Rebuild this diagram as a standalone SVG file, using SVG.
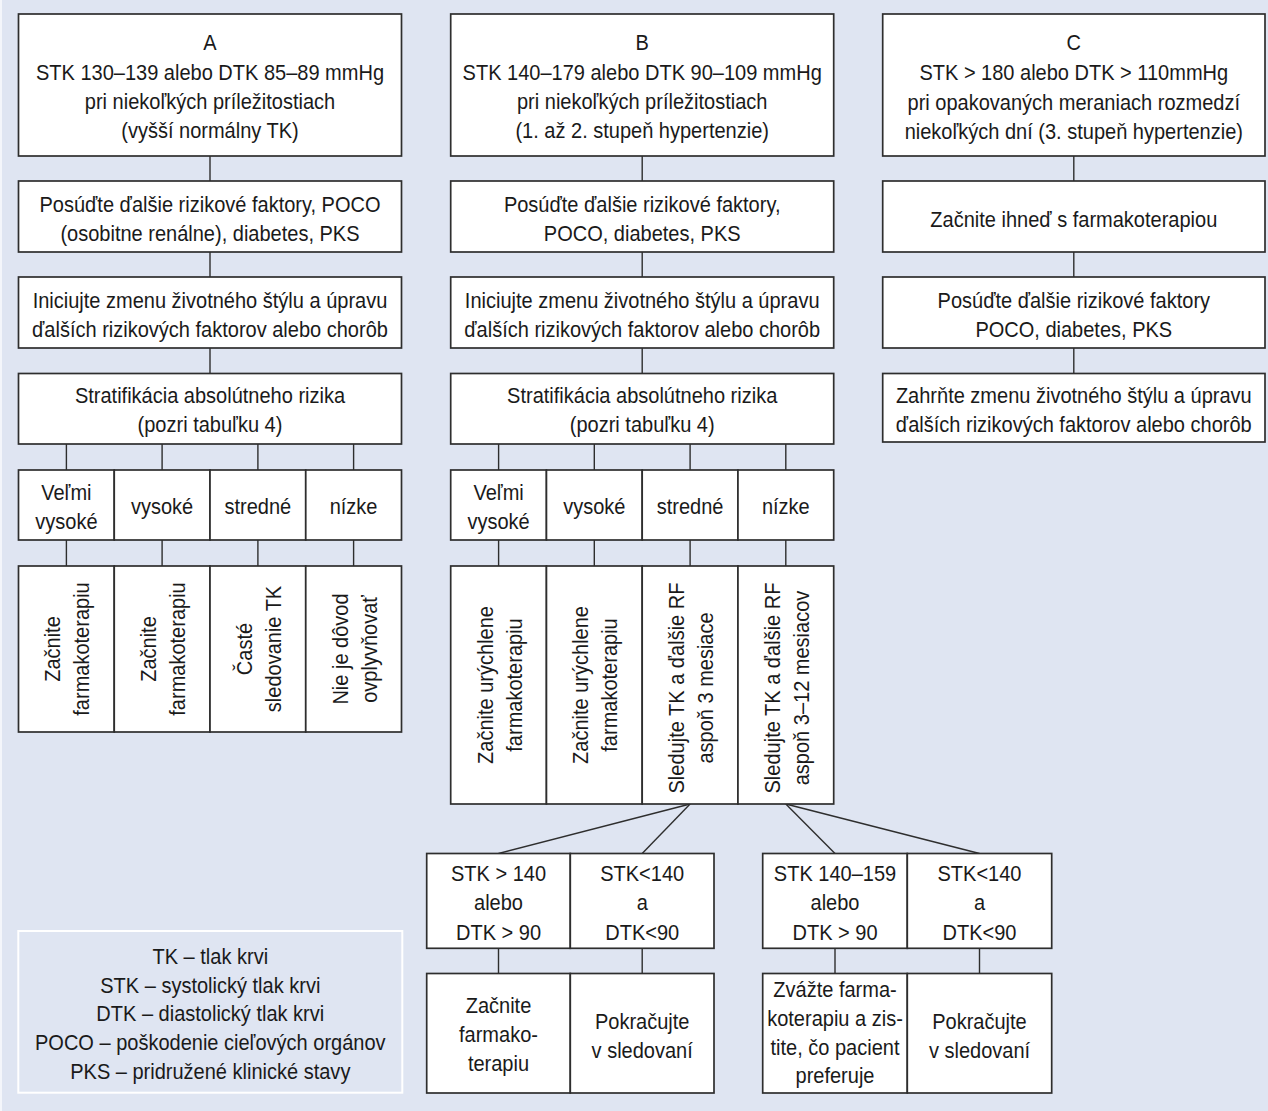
<svg xmlns="http://www.w3.org/2000/svg" width="1268" height="1111" viewBox="0 0 1268 1111">
<style>
.bx{fill:#ffffff;stroke:#2e2e2e;stroke-width:1.7}
.ln{fill:none;stroke:#2e2e2e;stroke-width:1.4}
.t{font-family:"Liberation Sans",Arial,Helvetica,sans-serif;font-size:22px;fill:#1a1a1a;text-anchor:middle}
.lg{fill:none;stroke:#ffffff;stroke-width:2}
</style>
<rect x="0" y="0" width="1268" height="1111" fill="#f4f6fb"/>
<rect x="2" y="0" width="1266" height="1111" fill="#dfe5f2"/>

<g id="connectors">
  <line class="ln" x1="210" y1="156" x2="210" y2="181"/>
  <line class="ln" x1="210" y1="252" x2="210" y2="277"/>
  <line class="ln" x1="210" y1="348" x2="210" y2="373.5"/>
  <line class="ln" x1="66.4" y1="444" x2="66.4" y2="470"/>
  <line class="ln" x1="162.1" y1="444" x2="162.1" y2="470"/>
  <line class="ln" x1="257.9" y1="444" x2="257.9" y2="470"/>
  <line class="ln" x1="353.6" y1="444" x2="353.6" y2="470"/>
  <line class="ln" x1="66.4" y1="540" x2="66.4" y2="566"/>
  <line class="ln" x1="162.1" y1="540" x2="162.1" y2="566"/>
  <line class="ln" x1="257.9" y1="540" x2="257.9" y2="566"/>
  <line class="ln" x1="353.6" y1="540" x2="353.6" y2="566"/>
  <line class="ln" x1="642.2" y1="156" x2="642.2" y2="181"/>
  <line class="ln" x1="642.2" y1="252" x2="642.2" y2="277"/>
  <line class="ln" x1="642.2" y1="348" x2="642.2" y2="373.5"/>
  <line class="ln" x1="498.6" y1="444" x2="498.6" y2="470"/>
  <line class="ln" x1="594.3" y1="444" x2="594.3" y2="470"/>
  <line class="ln" x1="690.1" y1="444" x2="690.1" y2="470"/>
  <line class="ln" x1="785.8" y1="444" x2="785.8" y2="470"/>
  <line class="ln" x1="498.6" y1="540" x2="498.6" y2="566"/>
  <line class="ln" x1="594.3" y1="540" x2="594.3" y2="566"/>
  <line class="ln" x1="690.1" y1="540" x2="690.1" y2="566"/>
  <line class="ln" x1="785.8" y1="540" x2="785.8" y2="566"/>
  <line class="ln" x1="690.1" y1="804" x2="498.5" y2="853.5"/>
  <line class="ln" x1="690.1" y1="804" x2="642.2" y2="853.5"/>
  <line class="ln" x1="785.8" y1="804" x2="835" y2="853.5"/>
  <line class="ln" x1="785.8" y1="804" x2="979.5" y2="853.5"/>
  <line class="ln" x1="498.5" y1="948.3" x2="498.5" y2="973.5"/>
  <line class="ln" x1="642.2" y1="948.3" x2="642.2" y2="973.5"/>
  <line class="ln" x1="835" y1="948.3" x2="835" y2="973.5"/>
  <line class="ln" x1="979.5" y1="948.3" x2="979.5" y2="973.5"/>
  <line class="ln" x1="1073.8" y1="156" x2="1073.8" y2="181"/>
  <line class="ln" x1="1073.8" y1="252" x2="1073.8" y2="277"/>
  <line class="ln" x1="1073.8" y1="348" x2="1073.8" y2="373.5"/>
</g>

<!-- Column A -->
<g id="a-head">
  <rect class="bx" x="18.5" y="14" width="383" height="142"/>
  <text class="t" transform="matrix(0.91 0 0 1 18.9 0)"><tspan x="210" y="50">A</tspan><tspan x="210" y="80">STK 130–139 alebo DTK 85–89 mmHg</tspan><tspan x="210" y="109.5">pri niekoľkých príležitostiach</tspan><tspan x="210" y="138.5">(vyšší normálny TK)</tspan></text>
</g>
<g id="a-assess">
  <rect class="bx" x="18.5" y="181" width="383" height="71"/>
  <text class="t" transform="matrix(0.91 0 0 1 18.9 0)"><tspan x="210" y="212.5">Posúďte ďalšie rizikové faktory, POCO</tspan><tspan x="210" y="241.5">(osobitne renálne), diabetes, PKS</tspan></text>
</g>
<g id="a-lifestyle">
  <rect class="bx" x="18.5" y="277" width="383" height="71"/>
  <text class="t" transform="matrix(0.91 0 0 1 18.9 0)"><tspan x="210" y="308">Iniciujte zmenu životného štýlu a úpravu</tspan><tspan x="210" y="337">ďalších rizikových faktorov alebo chorôb</tspan></text>
</g>
<g id="a-strat">
  <rect class="bx" x="18.5" y="373.5" width="383" height="70.5"/>
  <text class="t" transform="matrix(0.91 0 0 1 18.9 0)"><tspan x="210" y="403">Stratifikácia absolútneho rizika</tspan><tspan x="210" y="432">(pozri tabuľku 4)</tspan></text>
</g>
<g id="a-risk-vv">
  <rect class="bx" x="18.5" y="470" width="95.75" height="70"/>
  <text class="t" transform="matrix(0.91 0 0 1 5.976 0)"><tspan x="66.4" y="500">Veľmi</tspan><tspan x="66.4" y="529">vysoké</tspan></text>
</g>
<g id="a-risk-v">
  <rect class="bx" x="114.25" y="470" width="95.75" height="70"/>
  <text class="t" transform="matrix(0.91 0 0 1 14.589 0)" x="162.1" y="514.5">vysoké</text>
</g>
<g id="a-risk-s">
  <rect class="bx" x="210" y="470" width="95.75" height="70"/>
  <text class="t" transform="matrix(0.91 0 0 1 23.211 0)" x="257.9" y="514.5">stredné</text>
</g>
<g id="a-risk-n">
  <rect class="bx" x="305.75" y="470" width="95.75" height="70"/>
  <text class="t" transform="matrix(0.91 0 0 1 31.824 0)" x="353.6" y="514.5">nízke</text>
</g>
<g id="a-act-1">
  <rect class="bx" x="18.5" y="566" width="95.75" height="166"/>
  <text class="t" transform="translate(66.4,649) rotate(-90) scale(0.91,1)"><tspan x="0" y="-6">Začnite</tspan><tspan x="0" y="23">farmakoterapiu</tspan></text>
</g>
<g id="a-act-2">
  <rect class="bx" x="114.25" y="566" width="95.75" height="166"/>
  <text class="t" transform="translate(162.1,649) rotate(-90) scale(0.91,1)"><tspan x="0" y="-6">Začnite</tspan><tspan x="0" y="23">farmakoterapiu</tspan></text>
</g>
<g id="a-act-3">
  <rect class="bx" x="210" y="566" width="95.75" height="166"/>
  <text class="t" transform="translate(257.9,649) rotate(-90) scale(0.91,1)"><tspan x="0" y="-6">Časté</tspan><tspan x="0" y="23">sledovanie TK</tspan></text>
</g>
<g id="a-act-4">
  <rect class="bx" x="305.75" y="566" width="95.75" height="166"/>
  <text class="t" transform="translate(353.6,649) rotate(-90) scale(0.91,1)"><tspan x="0" y="-6">Nie je dôvod</tspan><tspan x="0" y="23">ovplyvňovať</tspan></text>
</g>

<!-- Column B -->
<g id="b-head">
  <rect class="bx" x="450.7" y="14" width="383" height="142"/>
  <text class="t" transform="matrix(0.91 0 0 1 57.798 0)"><tspan x="642.2" y="50">B</tspan><tspan x="642.2" y="80">STK 140–179 alebo DTK 90–109 mmHg</tspan><tspan x="642.2" y="109.5">pri niekoľkých príležitostiach</tspan><tspan x="642.2" y="138.5">(1. až 2. stupeň hypertenzie)</tspan></text>
</g>
<g id="b-assess">
  <rect class="bx" x="450.7" y="181" width="383" height="71"/>
  <text class="t" transform="matrix(0.91 0 0 1 57.798 0)"><tspan x="642.2" y="212.5">Posúďte ďalšie rizikové faktory,</tspan><tspan x="642.2" y="241.5">POCO, diabetes, PKS</tspan></text>
</g>
<g id="b-lifestyle">
  <rect class="bx" x="450.7" y="277" width="383" height="71"/>
  <text class="t" transform="matrix(0.91 0 0 1 57.798 0)"><tspan x="642.2" y="308">Iniciujte zmenu životného štýlu a úpravu</tspan><tspan x="642.2" y="337">ďalších rizikových faktorov alebo chorôb</tspan></text>
</g>
<g id="b-strat">
  <rect class="bx" x="450.7" y="373.5" width="383" height="70.5"/>
  <text class="t" transform="matrix(0.91 0 0 1 57.798 0)"><tspan x="642.2" y="403">Stratifikácia absolútneho rizika</tspan><tspan x="642.2" y="432">(pozri tabuľku 4)</tspan></text>
</g>
<g id="b-risk-vv">
  <rect class="bx" x="450.7" y="470" width="95.75" height="70"/>
  <text class="t" transform="matrix(0.91 0 0 1 44.874 0)"><tspan x="498.6" y="500">Veľmi</tspan><tspan x="498.6" y="529">vysoké</tspan></text>
</g>
<g id="b-risk-v">
  <rect class="bx" x="546.45" y="470" width="95.75" height="70"/>
  <text class="t" transform="matrix(0.91 0 0 1 53.487 0)" x="594.3" y="514.5">vysoké</text>
</g>
<g id="b-risk-s">
  <rect class="bx" x="642.2" y="470" width="95.75" height="70"/>
  <text class="t" transform="matrix(0.91 0 0 1 62.109 0)" x="690.1" y="514.5">stredné</text>
</g>
<g id="b-risk-n">
  <rect class="bx" x="737.95" y="470" width="95.75" height="70"/>
  <text class="t" transform="matrix(0.91 0 0 1 70.722 0)" x="785.8" y="514.5">nízke</text>
</g>
<g id="b-act-1">
  <rect class="bx" x="450.7" y="566" width="95.75" height="238"/>
  <text class="t" transform="translate(498.6,685) rotate(-90) scale(0.91,1)"><tspan x="0" y="-6">Začnite urýchlene</tspan><tspan x="0" y="23">farmakoterapiu</tspan></text>
</g>
<g id="b-act-2">
  <rect class="bx" x="546.45" y="566" width="95.75" height="238"/>
  <text class="t" transform="translate(594.3,685) rotate(-90) scale(0.91,1)"><tspan x="0" y="-6">Začnite urýchlene</tspan><tspan x="0" y="23">farmakoterapiu</tspan></text>
</g>
<g id="b-act-3">
  <rect class="bx" x="642.2" y="566" width="95.75" height="238"/>
  <text class="t" transform="translate(690.1,688) rotate(-90) scale(0.91,1)"><tspan x="0" y="-6">Sledujte TK a ďalšie RF</tspan><tspan x="0" y="23">aspoň 3 mesiace</tspan></text>
</g>
<g id="b-act-4">
  <rect class="bx" x="737.95" y="566" width="95.75" height="238"/>
  <text class="t" transform="translate(785.8,688) rotate(-90) scale(0.91,1)"><tspan x="0" y="-6">Sledujte TK a ďalšie RF</tspan><tspan x="0" y="23">aspoň 3–12 mesiacov</tspan></text>
</g>

<!-- B lower branches -->
<g id="b-mid-high">
  <rect class="bx" x="426.7" y="853.5" width="143.6" height="94.8"/>
  <text class="t" transform="matrix(0.91 0 0 1 44.865 0)"><tspan x="498.5" y="881">STK &gt; 140</tspan><tspan x="498.5" y="910.5">alebo</tspan><tspan x="498.5" y="940">DTK &gt; 90</tspan></text>
</g>
<g id="b-mid-low">
  <rect class="bx" x="570.3" y="853.5" width="143.7" height="94.8"/>
  <text class="t" transform="matrix(0.91 0 0 1 57.798 0)"><tspan x="642.2" y="881">STK&lt;140</tspan><tspan x="642.2" y="910.5">a</tspan><tspan x="642.2" y="940">DTK&lt;90</tspan></text>
</g>
<g id="b-mid-high-act">
  <rect class="bx" x="426.7" y="973.5" width="143.6" height="119.5"/>
  <text class="t" transform="matrix(0.91 0 0 1 44.865 0)"><tspan x="498.5" y="1013">Začnite</tspan><tspan x="498.5" y="1042">farmako-</tspan><tspan x="498.5" y="1071">terapiu</tspan></text>
</g>
<g id="b-mid-low-act">
  <rect class="bx" x="570.3" y="973.5" width="143.7" height="119.5"/>
  <text class="t" transform="matrix(0.91 0 0 1 57.798 0)"><tspan x="642.2" y="1029">Pokračujte</tspan><tspan x="642.2" y="1058">v sledovaní</tspan></text>
</g>
<g id="b-low-high">
  <rect class="bx" x="762.7" y="853.5" width="144.6" height="94.8"/>
  <text class="t" transform="matrix(0.91 0 0 1 75.15 0)"><tspan x="835" y="881">STK 140–159</tspan><tspan x="835" y="910.5">alebo</tspan><tspan x="835" y="940">DTK &gt; 90</tspan></text>
</g>
<g id="b-low-low">
  <rect class="bx" x="907.3" y="853.5" width="144.4" height="94.8"/>
  <text class="t" transform="matrix(0.91 0 0 1 88.155 0)"><tspan x="979.5" y="881">STK&lt;140</tspan><tspan x="979.5" y="910.5">a</tspan><tspan x="979.5" y="940">DTK&lt;90</tspan></text>
</g>
<g id="b-low-high-act">
  <rect class="bx" x="762.7" y="973.5" width="144.6" height="119.5"/>
  <text class="t" transform="matrix(0.91 0 0 1 75.15 0)"><tspan x="835" y="997">Zvážte farma-</tspan><tspan x="835" y="1026">koterapiu a zis-</tspan><tspan x="835" y="1055">tite, čo pacient</tspan><tspan x="835" y="1083">preferuje</tspan></text>
</g>
<g id="b-low-low-act">
  <rect class="bx" x="907.3" y="973.5" width="144.4" height="119.5"/>
  <text class="t" transform="matrix(0.91 0 0 1 88.155 0)"><tspan x="979.5" y="1029">Pokračujte</tspan><tspan x="979.5" y="1058">v sledovaní</tspan></text>
</g>

<!-- Column C -->
<g id="c-head">
  <rect class="bx" x="882.7" y="14" width="382.3" height="142"/>
  <text class="t" transform="matrix(0.91 0 0 1 96.642 0)"><tspan x="1073.8" y="50">C</tspan><tspan x="1073.8" y="80.5">STK &gt; 180 alebo DTK &gt; 110mmHg</tspan><tspan x="1073.8" y="110">pri opakovaných meraniach rozmedzí</tspan><tspan x="1073.8" y="139">niekoľkých dní (3. stupeň hypertenzie)</tspan></text>
</g>
<g id="c-start">
  <rect class="bx" x="882.7" y="181" width="382.3" height="71"/>
  <text class="t" transform="matrix(0.91 0 0 1 96.642 0)" x="1073.8" y="227.5">Začnite ihneď s farmakoterapiou</text>
</g>
<g id="c-assess">
  <rect class="bx" x="882.7" y="277" width="382.3" height="71"/>
  <text class="t" transform="matrix(0.91 0 0 1 96.642 0)"><tspan x="1073.8" y="308">Posúďte ďalšie rizikové faktory</tspan><tspan x="1073.8" y="337">POCO, diabetes, PKS</tspan></text>
</g>
<g id="c-lifestyle">
  <rect class="bx" x="882.7" y="373.5" width="382.3" height="68.5"/>
  <text class="t" transform="matrix(0.91 0 0 1 96.642 0)"><tspan x="1073.8" y="403">Zahrňte zmenu životného štýlu a úpravu</tspan><tspan x="1073.8" y="432">ďalších rizikových faktorov alebo chorôb</tspan></text>
</g>

<!-- Legend -->
<g id="legend">
  <rect class="lg" x="18.3" y="931" width="384" height="161.7"/>
  <text class="t" transform="matrix(0.91 0 0 1 18.927 0)"><tspan x="210.3" y="964">TK – tlak krvi</tspan><tspan x="210.3" y="993">STK – systolický tlak krvi</tspan><tspan x="210.3" y="1021.5">DTK – diastolický tlak krvi</tspan><tspan x="210.3" y="1050">POCO – poškodenie cieľových orgánov</tspan><tspan x="210.3" y="1079">PKS – pridružené klinické stavy</tspan></text>
</g>
</svg>
